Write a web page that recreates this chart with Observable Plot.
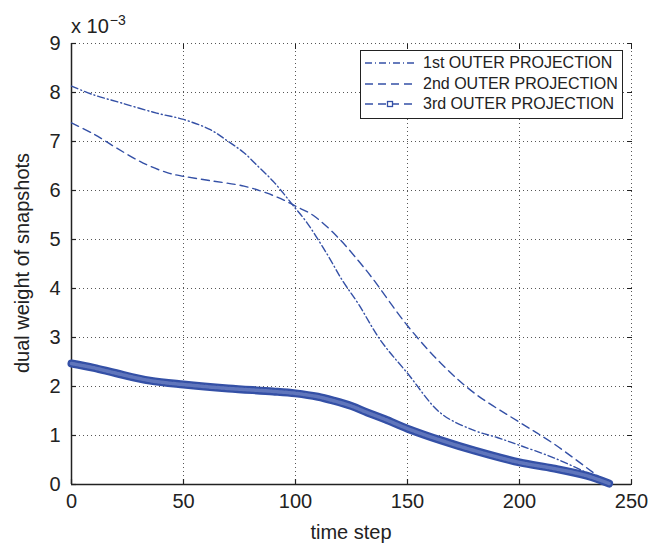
<!DOCTYPE html>
<html>
<head>
<meta charset="utf-8">
<script src="https://cdn.jsdelivr.net/npm/d3@7"></script>
<script src="https://cdn.jsdelivr.net/npm/@observablehq/plot@0.6"></script>
<style>
  html, body { margin: 0; padding: 0; background: #fff; }
  #wrap { position: relative; width: 649px; height: 546px; font-family: "Liberation Sans", Arial, Helvetica, sans-serif; color: #222; }
  #wrap svg { position: absolute; left: 0; top: 0; }
  .ov { position: absolute; white-space: nowrap; line-height: 1; }
  #legend { position: absolute; left: 360px; top: 50px; width: 263px; height: 69px; border: 1.5px solid #222; background: #fff; box-sizing: border-box; }
  #legend .row { position: absolute; left: 0; height: 20px; display: flex; align-items: center; }
  #legend .row span { font-size: 16px; color: #222; margin-left: 4px; }
</style>
</head>
<body>
<div id="wrap"></div>
<script>
// ---- data (y values in units of 1e-3) ----
const s1x = [0, 10, 22, 38, 50, 62, 70, 77, 84, 90, 95, 99, 105, 114, 121, 128, 138, 150, 165, 180, 190, 200, 215, 230, 240];
const s1y = [8.13, 7.95, 7.79, 7.58, 7.45, 7.24, 7.0, 6.77, 6.46, 6.19, 5.92, 5.69, 5.35, 4.71, 4.16, 3.69, 2.94, 2.27, 1.45, 1.1, 0.96, 0.8, 0.55, 0.24, 0.0];

const s2x = [0, 10, 20, 32, 43, 50, 62, 77, 87, 95, 100, 108, 119, 128, 134, 150, 165, 180, 200, 215, 233, 240];
const s2y = [7.38, 7.15, 6.87, 6.56, 6.36, 6.29, 6.2, 6.09, 5.95, 5.8, 5.68, 5.49, 5.04, 4.57, 4.23, 3.24, 2.47, 1.86, 1.27, 0.84, 0.24, 0.0];

const s3x = [0, 10, 20, 35, 50, 70, 90, 100, 110, 117, 125, 132, 140, 150, 165, 180, 200, 215, 230, 240];
const s3y = [2.47, 2.38, 2.27, 2.12, 2.04, 1.96, 1.9, 1.86, 1.79, 1.71, 1.6, 1.47, 1.33, 1.14, 0.9, 0.69, 0.45, 0.33, 0.18, 0.02];

const seriesNames = ["1st OUTER PROJECTION", "2nd OUTER PROJECTION", "3rd OUTER PROJECTION"];
const xTicks = [0, 50, 100, 150, 200, 250];
const yTicks = [0, 1, 2, 3, 4, 5, 6, 7, 8, 9];
const xLabel = "time step";
const yLabel = "dual weight of snapshots";
const expLabel = "x 10";
const expPower = "\u22123";

const toRows = (xs, ys) => xs.map((x, i) => ({x, y: ys[i]}));
const d1 = toRows(s1x, s1y), d2 = toRows(s2x, s2y), d3 = toRows(s3x, s3y);

const blue = "#3450a6";
const gridStyle = {stroke: "#444", strokeWidth: 1, strokeDasharray: "1,3", strokeOpacity: 0.9};
const fmtEmpty = () => "";

const chart = Plot.plot({
  width: 649,
  height: 546,
  marginLeft: 71,
  marginRight: 18,
  marginTop: 43,
  marginBottom: 62,
  style: {fontFamily: "'Liberation Sans', Arial, Helvetica, sans-serif", fontSize: "20px", color: "#222", background: "transparent"},
  x: {domain: [0, 250]},
  y: {domain: [0, 9]},
  marks: [
    Plot.ruleX(xTicks.filter(d => d > 0), gridStyle),
    Plot.ruleY(yTicks.filter(d => d > 0), gridStyle),
    // inward ticks on all four sides
    Plot.axisX(xTicks, {anchor: "bottom", tickSize: -5, tickFormat: fmtEmpty, label: null, stroke: "#222", strokeWidth: 1.2}),
    Plot.axisX(xTicks, {anchor: "top", tickSize: -5, tickFormat: fmtEmpty, label: null, stroke: "#222", strokeWidth: 1}),
    Plot.axisY(yTicks, {anchor: "left", tickSize: -5, tickFormat: fmtEmpty, label: null, stroke: "#222", strokeWidth: 1.2}),
    Plot.axisY(yTicks, {anchor: "right", tickSize: -5, tickFormat: fmtEmpty, label: null, stroke: "#222", strokeWidth: 1}),
    // tick labels
    Plot.axisX(xTicks, {anchor: "bottom", tickSize: 0, tickPadding: 9, label: null, fontSize: 20, fill: "#222"}),
    Plot.axisY(yTicks, {anchor: "left", tickSize: 0, tickPadding: 11, label: null, fontSize: 20, fill: "#222"}),
    // axis lines
    Plot.ruleY([0], {stroke: "#222", strokeWidth: 1.5}),
    Plot.ruleX([0], {stroke: "#222", strokeWidth: 1.5}),
    // series
    Plot.line(d1, {x: "x", y: "y", curve: "catmull-rom", stroke: blue, strokeWidth: 1.4, strokeDasharray: "7,3,1,3"}),
    Plot.line(d2, {x: "x", y: "y", curve: "catmull-rom", stroke: blue, strokeWidth: 1.4, strokeDasharray: "8,5"}),
    Plot.line(d3, {x: "x", y: "y", curve: "catmull-rom", stroke: blue, strokeWidth: 8}),
    Plot.line(d3, {x: "x", y: "y", curve: "catmull-rom", stroke: "#7386c6", strokeWidth: 3.5, strokeDasharray: "2.5,1.5", strokeOpacity: 0.7})
  ]
});

const wrap = document.getElementById("wrap");
wrap.appendChild(chart);

// exponent label
const exp = document.createElement("div");
exp.className = "ov";
exp.style.left = "71px";
exp.style.top = "16px";
exp.style.fontSize = "20px";
exp.innerHTML = `${expLabel}<span style="font-size:14px;position:relative;top:-8px;margin-left:1px;">${expPower}</span>`;
wrap.appendChild(exp);

// x label
const xl = document.createElement("div");
xl.className = "ov";
xl.style.left = "351px";
xl.style.top = "522px";
xl.style.transform = "translateX(-50%)";
xl.style.fontSize = "20px";
xl.textContent = xLabel;
wrap.appendChild(xl);

// y label
const yl = document.createElement("div");
yl.className = "ov";
yl.style.left = "22px";
yl.style.top = "263px";
yl.style.transform = "translate(-50%, -50%) rotate(-90deg)";
yl.style.fontSize = "20px";
yl.textContent = yLabel;
wrap.appendChild(yl);

// legend
const legend = document.createElement("div");
legend.id = "legend";
const legendStyles = [
  {dash: "7,3,1,3", width: 1.4, marker: false},
  {dash: "8,5", width: 1.4, marker: false},
  {dash: "8,5", width: 1.4, marker: true}
];
seriesNames.forEach((name, i) => {
  const row = document.createElement("div");
  row.className = "row";
  row.style.top = (2 + i * 20.7) + "px";
  const st = legendStyles[i];
  row.innerHTML = `<svg width="58" height="20" style="position:static">
      <line x1="4" x2="56" y1="10" y2="10" stroke="${blue}" stroke-width="${st.width}" stroke-dasharray="${st.dash}"/>
      ${st.marker ? `<rect x="26.5" y="7.5" width="5" height="5" fill="#fff" stroke="${blue}" stroke-width="1.3"/>` : ""}
    </svg><span>${name}</span>`;
  legend.appendChild(row);
});
wrap.appendChild(legend);
</script>
</body>
</html>
